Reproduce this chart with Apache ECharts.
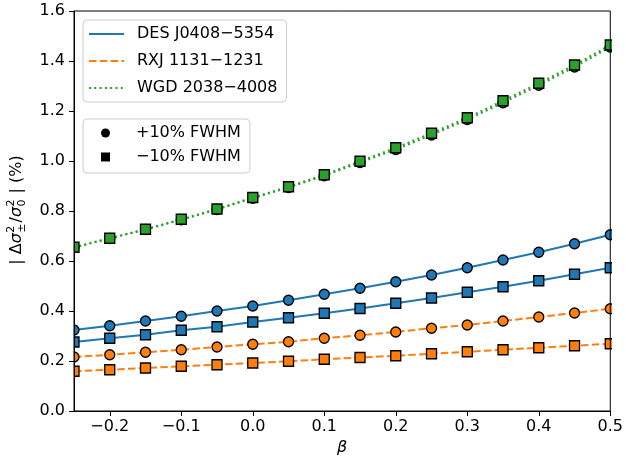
<!DOCTYPE html>
<html lang="en">
<head>
  <meta charset="UTF-8" />
  <title>FWHM sensitivity vs beta</title>
  <script src="https://cdn.jsdelivr.net/npm/echarts@6/dist/echarts.min.js"></script>
  <style>
    html, body { margin: 0; padding: 0; background: #fff; }
    #chart { width: 626px; height: 462px; }
  </style>
</head>
<body>
  <div id="chart"></div>
  <script>
    // beta values (x) and |dsigma^2 / sigma0^2| in % for each lens
    const betas = [-0.25, -0.2, -0.15, -0.1, -0.05, 0.0, 0.05, 0.1, 0.15, 0.2, 0.25, 0.3, 0.35, 0.4, 0.45, 0.5];
    const desPlus  = [0.324, 0.341, 0.360, 0.379, 0.400, 0.420, 0.443, 0.467, 0.491, 0.517, 0.544, 0.573, 0.604, 0.635, 0.669, 0.705];
    const desMinus = [0.276, 0.291, 0.305, 0.323, 0.337, 0.356, 0.373, 0.391, 0.410, 0.431, 0.452, 0.475, 0.497, 0.521, 0.547, 0.573];
    const rxjPlus  = [0.216, 0.225, 0.235, 0.245, 0.256, 0.267, 0.277, 0.291, 0.303, 0.316, 0.331, 0.344, 0.360, 0.376, 0.392, 0.409];
    const rxjMinus = [0.159, 0.165, 0.172, 0.179, 0.185, 0.192, 0.199, 0.207, 0.214, 0.221, 0.229, 0.237, 0.245, 0.253, 0.261, 0.269];
    const wgdPlus  = [0.654, 0.690, 0.726, 0.765, 0.806, 0.851, 0.894, 0.941, 0.994, 1.046, 1.104, 1.166, 1.233, 1.303, 1.376, 1.456];
    const wgdMinus = [0.655, 0.691, 0.727, 0.767, 0.808, 0.854, 0.897, 0.945, 0.999, 1.053, 1.111, 1.173, 1.241, 1.311, 1.384, 1.464];

    const lensNames = ['DES J0408\u22125354', 'RXJ 1131\u22121231', 'WGD 2038\u22124008'];
    const fwhmNames = ['+10% FWHM', '\u221210% FWHM'];
    const xTicks = [-0.2, -0.1, 0.0, 0.1, 0.2, 0.3, 0.4, 0.5];

    const FONT = 'DejaVu Sans';
    const colors = ['#1f77b4', '#ff7f0e', '#2ca02c'];
    const dashes = ['solid', [7.5, 3.3], [2, 3.3]];
    const G = { left: 74, right: 14, top: 11, bottom: 51 };

    const fmt = v => v.toFixed(1).replace('-', '\u2212');
    const pairs = ys => betas.map((b, i) => [b, ys[i]]);

    function lensSeries(ys, k, symbol) {
      return {
        type: 'line',
        data: pairs(ys),
        symbol: symbol,
        symbolSize: 10,
        showAllSymbol: true,
        color: colors[k],
        lineStyle: { color: colors[k], width: 2, type: dashes[k], cap: 'butt' },
        itemStyle: { color: colors[k], borderColor: '#000', borderWidth: 1.3 },
        emphasis: { disabled: true },
        animation: false
      };
    }

    // legend-only line entry: one point far outside the axes, clipped away
    function legendLine(k) {
      return {
        name: lensNames[k], type: 'line', data: [[-9, -9]], symbol: 'none', color: colors[k],
        lineStyle: { color: colors[k], width: 2, type: dashes[k], cap: 'butt' }
      };
    }

    // y axis label built from small text pieces (mathtext-like)
    const ctx = document.createElement('canvas').getContext('2d');
    function tw(t, size, italic) {
      ctx.font = (italic ? 'italic ' : '') + size + 'px "' + FONT + '"';
      return ctx.measureText(t).width;
    }
    const parts = [
      { t: '|' }, { t: ' \u0394' }, { t: '\u03c3', it: true }, { sup: '2', sub: '\u00b1' },
      { t: '/' }, { t: '\u03c3', it: true }, { sup: '2', sub: '0' }, { t: ' |' }, { t: ' (%)' }
    ];
    const children = [];
    let px = 0;
    const txt = (x, y, t, font) => ({ type: 'text', z: 10, x: x, y: y, style: { text: t, font: font, fill: '#000', verticalAlign: 'middle', align: 'left' } });
    parts.forEach(p => {
      if (p.t) {
        children.push(txt(px, 0, p.t, (p.it ? 'italic ' : '') + '16px "' + FONT + '"'));
        px += tw(p.t, 16, p.it);
      } else {
        children.push(txt(px + 0.5, -6, p.sup, '11px "' + FONT + '"'));
        children.push(txt(px + 0.5, 5, p.sub, '11px "' + FONT + '"'));
        px += Math.max(tw(p.sup, 11), tw(p.sub, 11)) + 1.5;
      }
    });
    children.forEach(c => { c.x -= px / 2; });

    // legend text with a fixed spacer in front (handle-to-text gap like matplotlib)
    function legendText(gap) {
      return {
        fontSize: 16, color: '#000',
        rich: { g: { width: gap, fontSize: 16 }, t: { fontSize: 16, color: '#000', fontFamily: FONT } }
      };
    }
    const legendFmt = n => '{g| }{t|' + n + '}';

    const chart = echarts.init(document.getElementById('chart'), null, { renderer: 'canvas' });
    chart.setOption({
      animation: false,
      textStyle: { fontFamily: FONT },
      grid: { left: G.left, right: G.right, top: G.top, bottom: G.bottom, show: true, borderColor: '#000', borderWidth: 1, z: 6 },
      xAxis: {
        type: 'value', min: -0.25, max: 0.5, z: 6,
        name: '\u03b2', nameLocation: 'middle', nameGap: 27,
        nameTextStyle: { fontSize: 16, fontStyle: 'italic', color: '#000' },
        axisLine: { onZero: false, lineStyle: { color: '#000', width: 1 } },
        axisTick: { show: true, length: 5, lineStyle: { color: '#000' }, customValues: xTicks },
        axisLabel: { fontSize: 16, color: '#000', margin: 8, customValues: xTicks, formatter: fmt },
        splitLine: { show: false }
      },
      yAxis: {
        type: 'value', min: 0, max: 1.6, interval: 0.2, z: 6,
        axisLine: { show: true, onZero: false, lineStyle: { color: '#000', width: 1 } },
        axisTick: { show: true, length: 5, lineStyle: { color: '#000' } },
        axisLabel: { fontSize: 16, color: '#000', margin: 9, formatter: fmt },
        splitLine: { show: false }
      },
      legend: [
        {
          orient: 'vertical', left: 83, top: 20, z: 7,
          padding: [6, 9, 6, 5], itemGap: 11, itemWidth: 35, itemHeight: 14,
          backgroundColor: 'rgba(255,255,255,0.8)', borderColor: '#cccccc', borderWidth: 1, borderRadius: 4,
          selectedMode: false,
          itemStyle: { color: 'rgba(0,0,0,0)', borderColor: 'rgba(0,0,0,0)', borderWidth: 0 },
          textStyle: legendText(8), formatter: legendFmt,
          data: lensNames
        },
        {
          orient: 'vertical', left: 83, top: 119, z: 7,
          padding: [6, 9, 8, 18], itemGap: 8, itemWidth: 9, itemHeight: 9,
          backgroundColor: 'rgba(255,255,255,0.8)', borderColor: '#cccccc', borderWidth: 1, borderRadius: 4,
          selectedMode: false,
          textStyle: legendText(21), formatter: legendFmt,
          data: [
            { name: fwhmNames[0], icon: 'circle' },
            { name: fwhmNames[1], icon: 'rect' }
          ]
        }
      ],
      graphic: [
        { type: 'rect', z: 4, shape: { x: 0, y: 0, width: G.left, height: 462 }, style: { fill: '#fff' } },
        { type: 'rect', z: 4, shape: { x: 626 - G.right, y: 0, width: G.right, height: 462 }, style: { fill: '#fff' } },
        { type: 'group', x: 17, y: 210, rotation: Math.PI / 2, z: 10, children: children }
      ],
      series: [
        // legend-only entries
        legendLine(0), legendLine(1), legendLine(2),
        { name: fwhmNames[0], type: 'line', data: [[-9, -9]], symbol: 'none', color: '#000' },
        { name: fwhmNames[1], type: 'line', data: [[-9, -9]], symbol: 'none', color: '#000' },
        // data
        lensSeries(desPlus, 0, 'circle'),
        lensSeries(desMinus, 0, 'rect'),
        lensSeries(rxjPlus, 1, 'circle'),
        lensSeries(rxjMinus, 1, 'rect'),
        lensSeries(wgdPlus, 2, 'circle'),
        lensSeries(wgdMinus, 2, 'rect')
      ]
    });
  </script>
</body>
</html>
